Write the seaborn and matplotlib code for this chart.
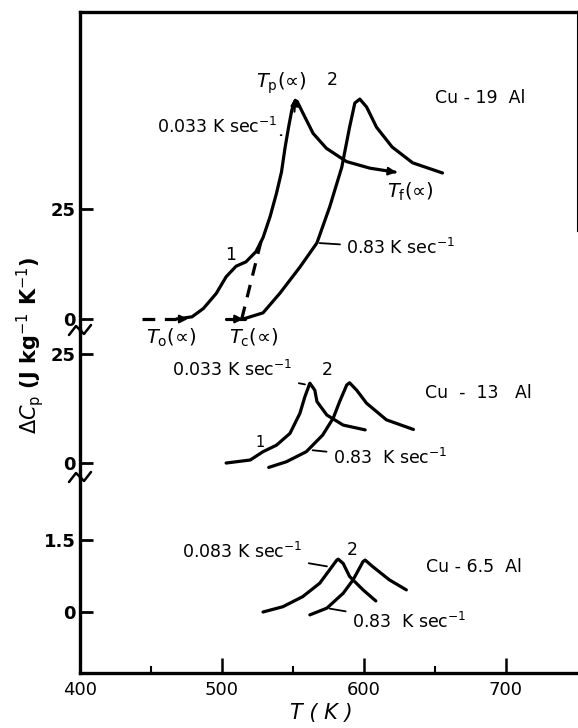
import numpy as np
import pandas as pd
import seaborn as sns
import matplotlib.pyplot as plt
from matplotlib.lines import Line2D

# Cu-19 Al
T19_slow = [468, 479, 487, 496, 503, 510, 517, 524, 529, 534, 538.5, 542, 544.5, 547, 549.3, 551.5, 553, 557.3, 564.3, 573.7, 587.8, 604.2, 622]
cp19_slow = [0, 0.5, 2.4, 5.8, 9.6, 12.0, 13.0, 15.3, 18.5, 23.3, 28.6, 33.4, 38.9, 43.6, 47.5, 49.6, 49.5, 46.7, 42.2, 38.8, 35.8, 34.3, 33.4]
T19_fast = [515, 529, 541, 555, 567, 576, 584.5, 590, 593.7, 597.2, 602, 609, 620, 634.5, 655.5]
cp19_fast = [0, 1.4, 5.9, 11.8, 17.3, 25.5, 34.5, 43.6, 49.1, 50.0, 48.2, 43.6, 39.1, 35.5, 33.2]
T19_base = [444, 468]
cp19_base = [0, 0]
T19_tangent = [514, 529]
cp19_tangent = [0, 19.5]

# Cu-13 Al
T13_slow = [503, 520, 529, 538.5, 548, 555, 558.5, 562, 565.5, 567, 574, 585.5, 601]
cp13_slow = [0, 0.7, 2.6, 4.1, 6.8, 11.4, 15.2, 18.3, 16.7, 14.1, 11.0, 8.7, 7.6]
T13_fast = [533, 545.5, 559.5, 571, 578.5, 583, 588, 590, 595, 602, 616, 635]
cp13_fast = [-1.0, 0.3, 2.6, 6.4, 10.3, 14.1, 17.9, 18.4, 16.7, 13.7, 9.9, 7.7]

# Cu-6.5 Al
T65_slow = [529, 543, 557, 569, 576, 581, 582, 585.5, 590, 599.5, 608.5]
cp65_slow = [0, 0.11, 0.32, 0.60, 0.88, 1.08, 1.10, 1.01, 0.74, 0.46, 0.23]
T65_fast = [562, 574, 585.5, 592.5, 599.5, 601, 606.5, 618, 630]
cp65_fast = [-0.06, 0.08, 0.39, 0.67, 1.05, 1.08, 0.94, 0.67, 0.46]

x_ticks = [400, 500, 600, 700]
x_minor = [450, 550, 650]

sns.set_theme(style='white')
plt.rcParams['font.family'] = ['DejaVu Sans']
plt.rcParams['mathtext.fontset'] = 'dejavusans'
plt.rcParams['text.color'] = 'black'
plt.rcParams['axes.labelcolor'] = 'black'
plt.rcParams['xtick.color'] = 'black'
plt.rcParams['ytick.color'] = 'black'

W, H = 578, 728
fig = plt.figure(figsize=(W / 100, H / 100), dpi=100)


def box(top, bottom):
    return [80 / W, 1 - bottom / H, 1 - 80 / W, (bottom - top) / H]


ax1 = fig.add_axes(box(12, 330))
ax2 = fig.add_axes(box(330, 477))
ax3 = fig.add_axes(box(477, 673))
ax1.set_ylim(-2.5, 69.8)
ax2.set_ylim(-3.2, 30.5)
ax3.set_ylim(-1.27, 2.81)

for ax in (ax1, ax2, ax3):
    ax.set_facecolor('none')
    ax.set_xlim(400, 751)
    for s in ax.spines.values():
        s.set_visible(False)
    ax.spines['left'].set_visible(True)
    ax.spines['left'].set_linewidth(2.4)
    ax.spines['left'].set_color('black')
    ax.tick_params(axis='y', direction='in', length=9.5, width=2, labelsize=13,
                   pad=3, left=True, colors='black')

ax1.spines['top'].set_visible(True)
ax1.spines['top'].set_linewidth(2.4)
ax1.spines['top'].set_color('black')
ax1.spines['right'].set_visible(True)
ax1.spines['right'].set_linewidth(1.5)
ax1.spines['right'].set_color('black')
ax1.spines['right'].set_bounds(20, 69.8)
ax3.spines['bottom'].set_visible(True)
ax3.spines['bottom'].set_linewidth(2.4)
ax3.spines['bottom'].set_color('black')

ax1.set_yticks([0, 25])
ax2.set_yticks([0, 25])
ax3.set_yticks([0, 1.5], ['0', '1.5'])
for ax in (ax1, ax2, ax3):
    for lab in ax.get_yticklabels():
        lab.set_fontweight('bold')
for ax in (ax1, ax2):
    ax.set_xticks([])
ax3.set_xticks(x_ticks)
ax3.set_xticks(x_minor, minor=True)
ax3.tick_params(axis='x', which='major', direction='in', length=11, width=1.8,
                labelsize=13, pad=6, bottom=True, colors='black')
ax3.tick_params(axis='x', which='minor', direction='in', length=5, width=1.5,
                bottom=True, colors='black')


def curve(ax, x, y, ls='-'):
    sns.lineplot(x=x, y=y, ax=ax, color='black', linewidth=2.3, linestyle=ls,
                 estimator=None, sort=False, legend=False,
                 solid_joinstyle='round', solid_capstyle='round')


curve(ax1, T19_slow, cp19_slow)
curve(ax1, T19_fast, cp19_fast)
curve(ax1, T19_base, cp19_base, ls=(0, (4, 3)))
curve(ax1, T19_tangent, cp19_tangent, ls=(0, (4, 3)))
curve(ax1, [503, 516], [0, 0])
curve(ax2, T13_slow, cp13_slow)
curve(ax2, T13_fast, cp13_fast)
curve(ax3, T65_slow, cp65_slow)
curve(ax3, T65_fast, cp65_fast)
for ax in (ax1, ax2, ax3):
    ax.set_xlabel('')
    ax.set_ylabel('')

arrow = dict(arrowstyle='-|>', color='black', lw=1.5, mutation_scale=12)
leader = dict(arrowstyle='-', color='black', lw=1.3)
ax1.annotate('', xy=(478, 0), xytext=(470, 0), arrowprops=arrow)
ax1.annotate('', xy=(517, 0), xytext=(509, 0), arrowprops=arrow)
ax1.annotate('', xy=(552, 51), xytext=(551, 46.5), arrowprops=arrow)
ax1.annotate('', xy=(625, 33.3), xytext=(617, 33.6), arrowprops=arrow)

fs = 12.5
ax1.text(524, 53.6, r'$T_{\mathrm{p}}$(∝)', fontsize=14, va='center', ha='left')
ax1.text(578, 54.3, '2', fontsize=fs, va='center', ha='center')
ax1.text(539, 43.6, r'0.033 K sec$^{-1}$', fontsize=fs, va='center', ha='right')
ax1.annotate('', xy=(544, 41.8), xytext=(539.5, 41.8), arrowprops=leader)
ax1.text(506, 14.5, '1', fontsize=fs, va='center', ha='center')
ax1.text(464, -4.3, r'$T_{\mathrm{o}}$(∝)', fontsize=14, va='center', ha='center')
ax1.text(522.5, -4.3, r'$T_{\mathrm{c}}$(∝)', fontsize=14, va='center', ha='center')
ax1.text(633, 28.9, r'$T_{\mathrm{f}}$(∝)', fontsize=14, va='center', ha='center')
ax1.text(682, 50.2, 'Cu - 19  Al', fontsize=fs, va='center', ha='center')
ax1.annotate('0.83 K sec$^{-1}$', xy=(567, 17.3), xytext=(587.5, 16.1),
             fontsize=fs, va='center', ha='left', arrowprops=leader)

ax2.annotate('0.033 K sec$^{-1}$', xy=(560.5, 17.9), xytext=(550, 21.3),
             fontsize=fs, va='center', ha='right', arrowprops=leader)
ax2.text(574.6, 21.3, '2', fontsize=fs, va='center', ha='center')
ax2.text(527, 4.8, '1', fontsize=fs - 2, va='center', ha='center')
ax2.text(681, 16.1, 'Cu  -  13   Al', fontsize=fs, va='center', ha='center')
ax2.annotate('0.83  K sec$^{-1}$', xy=(562, 3.0), xytext=(578, 1.1),
             fontsize=fs, va='center', ha='left', arrowprops=leader)

ax3.annotate('0.083 K sec$^{-1}$', xy=(576, 0.94), xytext=(557, 1.25),
             fontsize=fs, va='center', ha='right', arrowprops=leader)
ax3.text(592, 1.29, '2', fontsize=fs, va='center', ha='center')
ax3.text(677.5, 0.94, 'Cu - 6.5  Al', fontsize=fs, va='center', ha='center')
ax3.annotate('0.83  K sec$^{-1}$', xy=(574, 0.08), xytext=(591.5, -0.21),
             fontsize=fs, va='center', ha='left', arrowprops=leader)

# axis breaks on the left spine
for py in (330, 477):
    xs = [p / W for p in (69, 76, 84, 91)]
    ys = [1 - (py + d) / H for d in (5, -4, 4, -5)]
    fig.add_artist(Line2D(xs, ys, color='black', lw=1.8))

fig.text(30 / W, 1 - 345 / H, r'$\Delta C_{\mathrm{p}}$ (J kg$^{-1}$ K$^{-1}$)',
         rotation=90, fontsize=15, fontweight='bold', ha='center', va='center')
fig.text(321 / W, 1 - 713 / H, 'T ( K )', fontsize=15, style='italic',
         ha='center', va='center')

fig.savefig('out.png', dpi=100)
